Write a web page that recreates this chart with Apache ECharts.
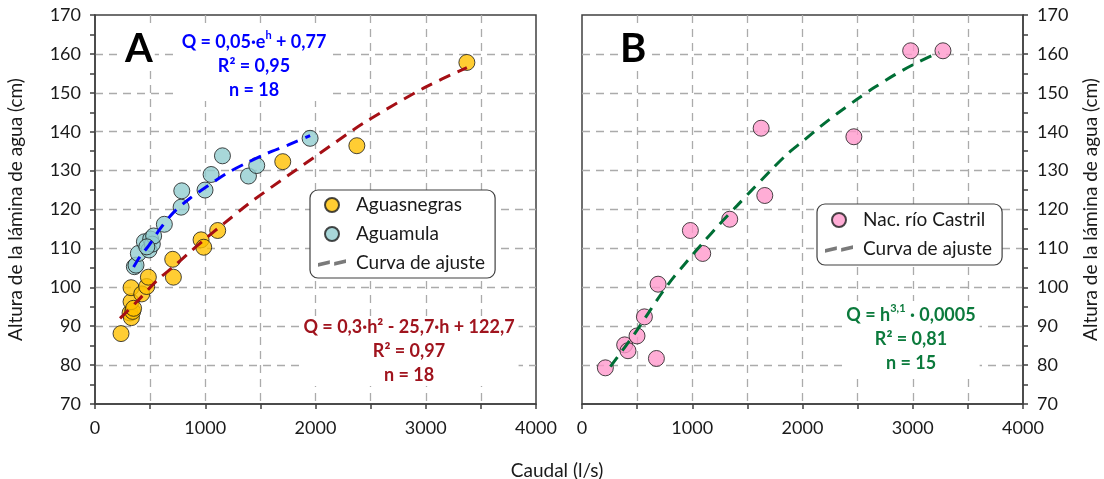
<!DOCTYPE html>
<html><head><meta charset="utf-8">
<script src="https://cdn.jsdelivr.net/npm/echarts@6/dist/echarts.min.js"></script>
<style>html,body{margin:0;padding:0;background:#fff}#c{width:1104px;height:479px}</style>
</head><body><div id="c"></div>
<script>
// ---- data ----
const xRange = [0, 4000];
const yRange = [70, 170];
const aguasnegras = [[236,88.1],[318,93.4],[330,92.2],[342,93.8],[327,96.3],[327,99.9],[424,98.3],[469,100.2],[484,102.6],[705,107.2],[711,102.6],[962,112.2],[986,110.3],[1113,114.6],[1703,132.3],[2375,136.4],[3373,157.8],[350,94.6]];
const aguamula = [[357,105.3],[372,105.7],[393,108.7],[448,111.7],[490,109.6],[505,112.4],[520,111.1],[532,113.2],[470,110.4],[629,116.2],[781,120.6],[787,124.8],[998,125.0],[1053,129.0],[1156,133.8],[1392,128.6],[1467,131.3],[1951,138.3]];
const castril = [[212,79.3],[387,85.2],[417,83.7],[499,87.5],[566,92.4],[675,81.7],[690,100.8],[983,114.6],[1095,108.7],[1340,117.5],[1625,140.9],[1658,123.6],[2466,138.7],[2981,160.8],[3274,160.8]];
const curveAguasnegras = [[227,92.0],[393,96.7],[560,101.7],[711,105.3],[847,108.7],[998,112.4],[1165,116.3],[1437,122.4],[1997,133.6],[2436,142.2],[2980,151.2],[3373,156.5]];
const curveAguamula = [[350,105.2],[408,107.9],[484,110.6],[590,115.0],[711,119.2],[862,122.9],[1014,125.9],[1195,129.3],[1377,132.0],[1558,134.4],[1754,136.6],[1951,139.0]];
const curveCastril = [[257,79.6],[483,88.3],[605,93.5],[726,98.6],[832,102.6],[938,106.2],[1099,111.5],[1250,116.3],[1407,121.0],[1527,124.6],[1710,130.0],[1867,134.4],[2018,137.9],[2170,141.5],[2321,144.8],[2488,148.2],[2654,151.4],[2835,154.6],[3002,157.2],[3183,159.7],[3240,160.3]];
const seriesNames = ['Aguasnegras','Aguamula','Nac. río Castril','Curva de ajuste'];
const axisNames = {x:'Caudal (l/s)', y:'Altura de la lámina de agua (cm)'};

const FONT = 'Lato';
const AX = '#404040';
const gridLine = {show:true, lineStyle:{color:'#ababab', type:[8,6], width:1.3}, showMinLine:false, showMaxLine:false};

function xAxis(gi){
  return {type:'value', gridIndex:gi, min:xRange[0], max:xRange[1], interval:1000,
    axisLine:{show:true, onZero:false, lineStyle:{color:AX, width:1.5}},
    axisTick:{show:true, inside:false, length:5, lineStyle:{color:AX, width:1.5}},
    minorTick:{show:true, splitNumber:2, length:5, lineStyle:{color:AX, width:1.5}},
    axisLabel:{margin:15, fontFamily:FONT, fontSize:18, color:'#1a1a1a', formatter:(v)=>String(v)},
    splitLine:gridLine, minorSplitLine:gridLine};
}
function yAxis(gi, pos, gap){
  return {type:'value', gridIndex:gi, position:pos, min:yRange[0], max:yRange[1], interval:10,
    name:axisNames.y, nameLocation:'middle', nameGap:gap, nameRotate:90,
    nameTextStyle:{fontFamily:FONT, fontSize:19, color:'#1a1a1a'},
    axisLine:{show:true, onZero:false, lineStyle:{color:AX, width:1.5}},
    axisTick:{show:true, inside:false, length:5, lineStyle:{color:AX, width:1.5}},
    minorTick:{show:true, splitNumber:2, length:5, lineStyle:{color:AX, width:1.5}},
    axisLabel:{margin:14, fontFamily:FONT, fontSize:18, color:'#1a1a1a', formatter:(v)=>String(v)},
    splitLine:gridLine};
}
const scatterStyle = (c)=>({color:c, borderColor:'#1a1a1a', borderWidth:1});
const legendBase = {orient:'vertical', selectedMode:false, itemWidth:28, itemHeight:14, itemGap:10,
  backgroundColor:'#fff', borderColor:AX, borderWidth:1.2, borderRadius:8,
  textStyle:{fontFamily:FONT, fontSize:19, color:'#1a1a1a', padding:[0,0,0,5]}};
const curveLegendItem = {name:seriesNames[3], icon:'path://M0,4.2L11,1.8L11,5.3L0,7.7ZM15,3.3L26,0.9L26,4.4L15,6.8Z'};
const eqStyle = (c)=>({rich:{
  b:{fontFamily:FONT, fontSize:18, fontWeight:'bold', color:c, lineHeight:24},
  s:{fontFamily:FONT, fontSize:11, fontWeight:'bold', color:c, lineHeight:14, verticalAlign:'top'}}});

const chart = echarts.init(document.getElementById('c'), null, {renderer:'canvas'});
chart.setOption({
  animation:false,
  backgroundColor:'#fff',
  grid:[
    {left:95, top:15, width:441, height:389, show:true, borderColor:AX, borderWidth:1.5, backgroundColor:'transparent'},
    {left:582, top:15, width:441, height:389, show:true, borderColor:AX, borderWidth:1.5, backgroundColor:'transparent'}
  ],
  xAxis:[xAxis(0), xAxis(1)],
  yAxis:[yAxis(0,'left',70), yAxis(1,'right',58)],
  title:[
    {text:axisNames.x, left:552, top:456, textAlign:'center', textStyle:{fontFamily:FONT, fontSize:19, fontWeight:'normal', color:'#1a1a1a'}},
    {text:'A', left:123, top:27, backgroundColor:'#fff', padding:[2,2], textStyle:{fontFamily:FONT, fontSize:40, fontWeight:'bold', color:'#000'}},
    {text:'B', left:618, top:27, backgroundColor:'#fff', padding:[2,2], textStyle:{fontFamily:FONT, fontSize:40, fontWeight:'bold', color:'#000'}},
    {text:'{b|Q = 0,05·e}{s|h}{b| + 0,77}\n{b|R² = 0,95}\n{b|n = 18}', left:250, top:28, textAlign:'center', backgroundColor:'#fff', padding:[2,4], textStyle:eqStyle('#0000ff')},
    {text:'{b|Q = 0,3·h² - 25,7·h + 122,7}\n{b|R² = 0,97}\n{b|n = 18}', left:405, top:313, textAlign:'center', backgroundColor:'#fff', padding:[2,4], textStyle:eqStyle('#a0141e')},
    {text:'{b|Q = h}{s|3,1}{b| · 0,0005}\n{b|R² = 0,81}\n{b|n = 15}', left:907, top:301, textAlign:'center', backgroundColor:'#fff', padding:[2,4], textStyle:eqStyle('#0b7a3c')}
  ],
  legend:[
    Object.assign({}, legendBase, {left:310, top:190, padding:[5.5,10,5.5,8], data:[seriesNames[0],seriesNames[1],curveLegendItem]}),
    Object.assign({}, legendBase, {left:817, top:204, padding:[6.5,10,6.5,8], data:[seriesNames[2],curveLegendItem]})
  ],
  series:[
    {type:'scatter', name:seriesNames[0], xAxisIndex:0, yAxisIndex:0, data:aguasnegras, symbolSize:16, z:2, itemStyle:scatterStyle('#ffc000')},
    {type:'scatter', name:seriesNames[1], xAxisIndex:0, yAxisIndex:0, data:aguamula, symbolSize:16, z:2, itemStyle:scatterStyle('#92cdcf')},
    {type:'line', xAxisIndex:0, yAxisIndex:0, data:curveAguasnegras, smooth:0.3, symbol:'none', z:3, lineStyle:{color:'#a50f15', width:3, type:[12,8]}},
    {type:'line', xAxisIndex:0, yAxisIndex:0, data:curveAguamula, smooth:0.3, symbol:'none', z:3, lineStyle:{color:'#0000ff', width:3, type:[12,8]}},
    {type:'scatter', name:seriesNames[2], xAxisIndex:1, yAxisIndex:1, data:castril, symbolSize:16, z:2, itemStyle:scatterStyle('#ff99cc')},
    {type:'line', xAxisIndex:1, yAxisIndex:1, data:curveCastril, smooth:0.3, symbol:'none', z:3, lineStyle:{color:'#006e35', width:3, type:[12,8]}},
    {type:'scatter', name:seriesNames[3], xAxisIndex:0, yAxisIndex:0, data:[], itemStyle:{color:'#595959', borderWidth:0}}
  ]
});
</script></body></html>
